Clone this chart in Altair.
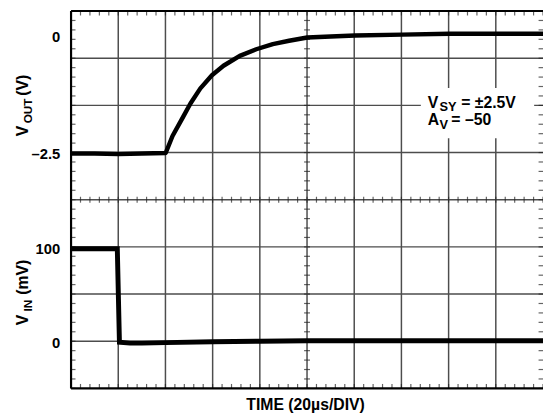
import altair as alt
import pandas as pd

W, H = 479, 383
FONT = "Liberation Sans"

# ---- data ----
t_out = [0, 10, 20, 30, 40.1, 43.0, 47.2, 50.6, 54.8, 59.7, 64.6, 71.5, 78.5, 85.5,
         92.4, 100.1, 110, 120.3, 140.3, 160.3, 180, 200]
v_out = [-2.52, -2.52, -2.53, -2.52, -2.51, -2.15, -1.77, -1.46, -1.14, -0.86, -0.66,
         -0.45, -0.31, -0.20, -0.13, -0.06, -0.04, -0.02, 0.0, 0.02, 0.02, 0.02]

t_in = [0, 10, 19.6, 20.5, 25, 30, 40, 60, 80, 100, 140, 200]
v_in = [98, 98, 98, -1, -2, -2, -1.5, -0.5, 0, 0.5, 0.5, 0.5]

out_ticks = [0, -2.5]
out_tick_labels = ["0", "–2.5"]
in_ticks = [100, 0]
in_tick_labels = ["100", "0"]

grid_t = [20, 40, 60, 80, 100, 120, 140, 160, 180]
grid_div = [-3, -2, -1, 0, 1, 2, 3]
minor_t = [i * 4 for i in range(51)]
minor_div = [round(-4 + i * 0.2, 1) for i in range(41)]

x_title = "TIME (20µs/DIV)"
vout_title = ["V", "OUT", "(V)"]
vin_title = ["V", "IN", "(mV)"]
ann1 = ["V", "SY", "= ±2.5V"]
ann2 = ["A", "V", "= –50"]

# ---- scales ----
xs = alt.Scale(domain=[0, 200], nice=False, zero=False)
ds = alt.Scale(domain=[-4, 4], nice=False, zero=False)
vs = alt.Scale(domain=[-7.5, 0.5], nice=False, zero=False)
ms = alt.Scale(domain=[-50, 350], nice=False, zero=False)

X = lambda: alt.X("t:Q", scale=xs, axis=None)
D = lambda: alt.Y("d:Q", scale=ds, axis=None)

GRID = "#4d4d4d"
TICK = "#222222"

layers = []

# grid
layers.append(alt.Chart(pd.DataFrame({"t": grid_t})).mark_rule(color=GRID, strokeWidth=1.5).encode(x=X()))
layers.append(alt.Chart(pd.DataFrame({"d": grid_div})).mark_rule(color=GRID, strokeWidth=1.5).encode(y=D()))

# minor ticks
def tick_df(ts, dv):
    return pd.DataFrame({"t": ts, "d": dv})

layers.append(alt.Chart(tick_df(minor_t, [4] * len(minor_t))).mark_tick(
    orient="vertical", size=4.5, thickness=1.2, color=TICK, yOffset=2.25).encode(x=X(), y=D()))
layers.append(alt.Chart(tick_df(minor_t, [-4] * len(minor_t))).mark_tick(
    orient="vertical", size=4.5, thickness=1.2, color=TICK, yOffset=-2.25).encode(x=X(), y=D()))
layers.append(alt.Chart(tick_df(minor_t, [0] * len(minor_t))).mark_tick(
    orient="vertical", size=6, thickness=1.2, color=TICK).encode(x=X(), y=D()))
layers.append(alt.Chart(tick_df([0] * len(minor_div), minor_div)).mark_tick(
    orient="horizontal", size=4.5, thickness=1.2, color=TICK, xOffset=2.25).encode(x=X(), y=D()))
layers.append(alt.Chart(tick_df([200] * len(minor_div), minor_div)).mark_tick(
    orient="horizontal", size=4.5, thickness=1.2, color=TICK, xOffset=-2.25).encode(x=X(), y=D()))
layers.append(alt.Chart(tick_df([100] * len(minor_div), minor_div)).mark_tick(
    orient="horizontal", size=6, thickness=1.2, color=TICK).encode(x=X(), y=D()))

# border (left, top, bottom)
layers.append(alt.Chart(pd.DataFrame({"t": [0]})).mark_rule(color="black", strokeWidth=2.2).encode(x=X()))
layers.append(alt.Chart(pd.DataFrame({"d": [4, -4]})).mark_rule(color="black", strokeWidth=2.2).encode(y=D()))

# white box behind annotation
layers.append(alt.Chart(pd.DataFrame({"a": [0]})).mark_rect(color="white").encode(
    x=alt.value(355), x2=alt.value(470), y=alt.value(78), y2=alt.value(129)))

# traces
layers.append(alt.Chart(pd.DataFrame({"t": t_out, "v": v_out})).mark_line(
    color="black", strokeWidth=4.5, strokeJoin="round").encode(
    x=X(), y=alt.Y("v:Q", scale=vs, axis=None), order="t:Q"))
layers.append(alt.Chart(pd.DataFrame({"t": t_in, "v": v_in})).mark_line(
    color="black", strokeWidth=5, strokeJoin="miter").encode(
    x=X(), y=alt.Y("v:Q", scale=ms, axis=None), order="t:Q"))

# tick labels
lab_style = dict(font=FONT, fontSize=15, fontWeight="bold", align="right", baseline="middle",
                 dy=2, color="black")
layers.append(alt.Chart(pd.DataFrame({"v": out_ticks, "s": out_tick_labels})).mark_text(**lab_style).encode(
    x=alt.value(-11), y=alt.Y("v:Q", scale=vs, axis=None), text="s:N"))
layers.append(alt.Chart(pd.DataFrame({"v": in_ticks, "s": in_tick_labels})).mark_text(**lab_style).encode(
    x=alt.value(-11), y=alt.Y("v:Q", scale=ms, axis=None), text="s:N"))


def txt(s, x, y, size, angle=0, align="left", baseline="alphabetic"):
    return alt.Chart(pd.DataFrame({"s": [s]})).mark_text(
        font=FONT, fontSize=size, fontWeight="bold", align=align, baseline=baseline,
        angle=angle, color="black").encode(x=alt.value(x), y=alt.value(y), text="s:N")


# axis titles (rotated, composed for subscripts)
layers.append(txt(vout_title[0], -44, 127, 16, angle=270))
layers.append(txt(vout_title[1], -40, 114, 12, angle=270))
layers.append(txt(vout_title[2], -44, 86, 16, angle=270))
layers.append(txt(vin_title[0], -44, 319, 16, angle=270))
layers.append(txt(vin_title[1], -40, 305, 12, angle=270))
layers.append(txt(vin_title[2], -44, 288, 16, angle=270))

# annotation
layers.append(txt(ann1[0], 362, 98, 16))
layers.append(txt(ann1[1], 374, 101.5, 13))
layers.append(txt(ann1[2], 396, 98, 16))
layers.append(txt(ann2[0], 362, 116, 16))
layers.append(txt(ann2[1], 374, 119.5, 13))
layers.append(txt(ann2[2], 386, 116, 16))

# x title
layers.append(txt(x_title, 238, 405, 16, align="center"))

chart = alt.layer(*layers).resolve_scale(y="independent").properties(
    width=W, height=H,
    autosize=alt.AutoSizeParams(type="none"),
    padding={"left": 64, "top": 0, "right": 0, "bottom": 29},
    background="white",
).configure_view(stroke=None)

chart.save("out.html", embed_options={"renderer": "svg", "actions": False})
